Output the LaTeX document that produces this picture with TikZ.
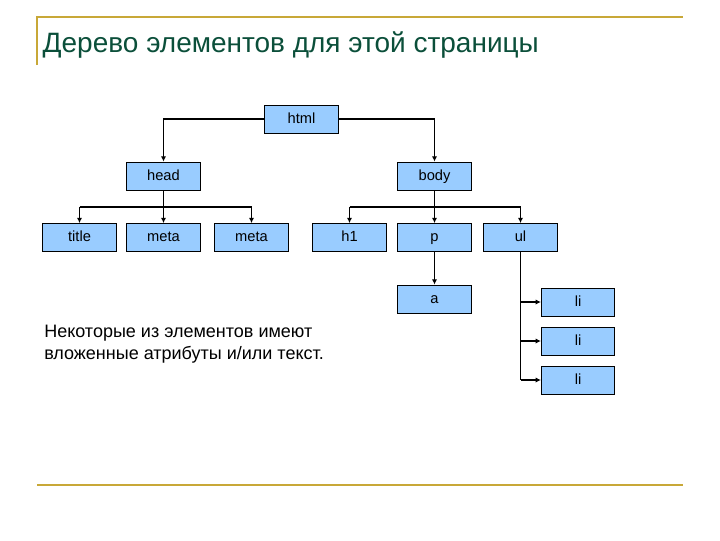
\documentclass[tikz,border=0pt]{standalone}
\usepackage{fontspec}
\setmainfont{Liberation Sans}
\usepackage{xcolor}
\usetikzlibrary{positioning,arrows.meta}
\definecolor{boxblue}{HTML}{99CCFF}
\definecolor{rulegold}{HTML}{C8A838}
\definecolor{titlegreen}{HTML}{0B4F3A}
\tikzset{
  elem/.style = {draw, line width = 0.6pt, fill = boxblue, minimum width = 55pt, minimum height = 21pt, inner sep = 0pt, text height = 8pt, text depth = 2pt, font = \fontsize{11}{13}\selectfont},
  link/.style = {line width = 1pt, -{Latex[length=4pt,width=4pt]}},
  bar/.style = {line width = 1pt}
}
\begin{document}
\begin{tikzpicture}[x = 0.75pt, y = -0.75pt]
\useasboundingbox (0,0) rectangle (720,540);
\draw [rulegold, line width = 1.2pt] (37,65) -- (37,17) -- (683,17);
\draw [rulegold, line width = 1.2pt] (37,485) -- (683,485);
\node [anchor = west, text = titlegreen, font = \fontsize{21}{25}\selectfont] at (38,45) (title) {Дерево элементов для этой страницы};

\node [elem] at (301.5,119) (html) {html};
\node [elem] at (163.5,176) (head) {head};
\node [elem] at (434.5,176) (body) {body};

\node [elem] at (79.5,237.5) (ttl) {title};
\node [elem] at (163.5,237.5) (meta1) {meta};
\node [elem] at (251.5,237.5) (meta2) {meta};
\node [elem] at (349.5,237.5) (h1) {h1};
\node [elem] at (434.5,237.5) (p) {p};
\node [elem] at (520.5,237.5) (ul) {ul};

\node [elem] at (434.5,299) (a) {a};
\node [elem] at (578,302) (li1) {li};
\node [elem] at (578,341) (li2) {li};
\node [elem] at (578,380) (li3) {li};

\coordinate (hb) at (163.5,207);
\coordinate (bb) at (434.5,207);
\coordinate (ulb) at (520.5,380);

\draw [link] (html.west) -| (head.north);
\draw [link] (html.east) -| (body.north);

\draw [bar] (head.south) -- (hb);
\draw [bar] (ttl.north |- hb) -- (meta2.north |- hb);
\draw [link] (ttl.north |- hb) -- (ttl.north);
\draw [link] (hb) -- (meta1.north);
\draw [link] (meta2.north |- hb) -- (meta2.north);

\draw [bar] (body.south) -- (bb);
\draw [bar] (h1.north |- bb) -- (ul.north |- bb);
\draw [link] (h1.north |- bb) -- (h1.north);
\draw [link] (bb) -- (p.north);
\draw [link] (ul.north |- bb) -- (ul.north);

\draw [link] (p.south) -- (a.north);
\draw [bar] (ul.south) -- (ulb);
\draw [link] (ul.south |- li1.west) -- (li1.west);
\draw [link] (ul.south |- li2.west) -- (li2.west);
\draw [link] (ulb) -- (li3.west);

\node [anchor = north west, align = left, font = \fontsize{13.5}{16.5}\selectfont, inner sep = 0pt] at (44,325) (note) {Некоторые из элементов имеют\\вложенные атрибуты и/или текст.};
\end{tikzpicture}
\end{document}
